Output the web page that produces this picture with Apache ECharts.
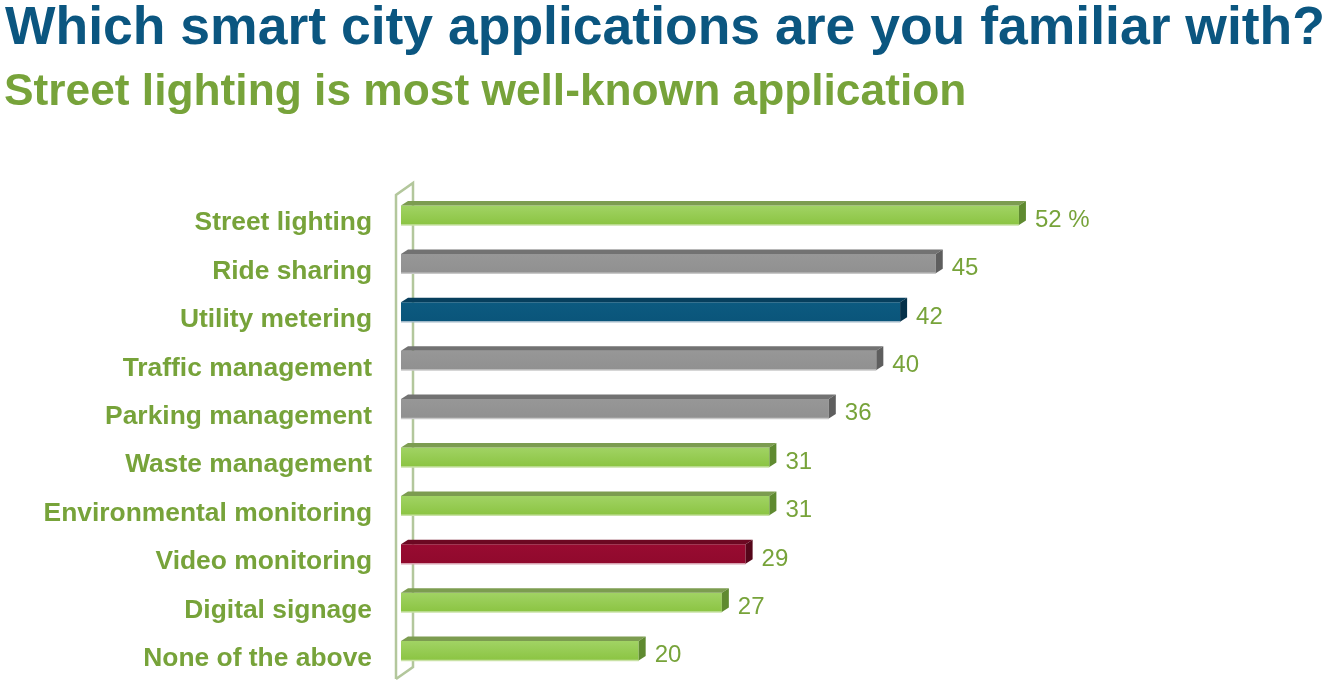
<!DOCTYPE html>
<html>
<head>
<meta charset="utf-8">
<script src="https://cdn.jsdelivr.net/npm/echarts@6/dist/echarts.min.js"></script>
<style>
html,body{margin:0;padding:0;background:#fff;}
#chart{width:1330px;height:694px;}
</style>
</head>
<body>
<div id="chart"></div>
<script>
// ---- data ----
const titleText = 'Which smart city applications are you familiar with?';
const subtitleText = 'Street lighting is most well-known application';
const categories = ['Street lighting','Ride sharing','Utility metering','Traffic management','Parking management','Waste management','Environmental monitoring','Video monitoring','Digital signage','None of the above'];
const values = [52,45,42,40,36,31,31,29,27,20];
const valueSuffix = ['%','','','','','','','','',''];
const tones = ['green','gray','blue','gray','gray','green','green','red','green','green'];

// ---- styles ----
const palette = {
  green: {front:[['#a1d364',0],['#8bc442',1]], top:'#7c9c50', side:'#5f8a30', edge:'#c9e2a6'},
  gray:  {front:[['#979797',0],['#909090',1]], top:'#727272', side:'#5e5e5e', edge:'#c8c8c8'},
  blue:  {front:[['#0c5a80',0],['#0a557a',1]], top:'#073f5d', side:'#053149', edge:'#9fb8c8'},
  red:   {front:[['#980b31',0],['#90092d',1]], top:'#6c0822', side:'#55061a', edge:'#d7a0ae'}
};
const textGreen = '#77a33a';
const titleBlue = '#0b5680';
const FONT = '"Liberation Sans", Arial, sans-serif';

const chart = echarts.init(document.getElementById('chart'));
const DX = 7, DY = 4.5;

function renderBar(params, api){
  const v = api.value(0);
  const cat = api.value(1);
  const p0 = api.coord([0, cat]);
  const p1 = api.coord([v, cat]);
  const h = api.size([0, 1])[1] * 0.4;
  const x0 = p0[0], x1 = p1[0], yc = p0[1];
  const yt = yc - h/2, yb = yc + h/2;
  const pal = palette[tones[params.dataIndex]];
  const suf = valueSuffix[params.dataIndex];
  return {
    type: 'group',
    children: [
      {type:'rect', shape:{x:x0, y:yt, width:x1-x0, height:h},
       style:{fill:{type:'linear',x:0,y:0,x2:0,y2:1,colorStops:pal.front.map(s=>({color:s[0],offset:s[1]}))}}},
      {type:'line', shape:{x1:x0, y1:yb, x2:x1, y2:yb}, style:{stroke:pal.edge, lineWidth:1.5}},
      {type:'polygon', shape:{points:[[x0,yt],[x0+DX,yt-DY],[x1+DX,yt-DY],[x1,yt]]}, style:{fill:pal.top}},
      {type:'polygon', shape:{points:[[x1,yt],[x1+DX,yt-DY],[x1+DX,yb-DY],[x1,yb]]}, style:{fill:pal.side}},
      {type:'text', style:{text: v + (suf ? ' ' + suf : ''), x: x1 + DX + 9, y: yc + 5,
        verticalAlign:'middle', align:'left', fill:textGreen, font:'24px ' + FONT}},
      {type:'text', style:{text: categories[params.dataIndex], x: x0 - 29, y: yc + 8,
        verticalAlign:'middle', align:'right', fill:textGreen, font:'bold 26.4px ' + FONT}}
    ]
  };
}

function renderWall(params, api){
  const cs = params.coordSys;
  const xl = cs.x - 5, xr = cs.x + 12;
  const top = cs.y, bot = cs.y + cs.height;
  const st = {stroke:'#b3c79c', lineWidth:2.5, fill:null};
  return {
    type:'group',
    children:[
      {type:'polyline', shape:{points:[[xl,bot+4],[xl,top+4],[xr,top-8],[xr,bot-8],[xl,bot+4]]}, style:st}
    ]
  };
}

const option = {
  animation:false,
  backgroundColor:'#fff',
  title:[
    {text:titleText, left:5, top:2, padding:0,
     textStyle:{fontSize:53.5, fontWeight:'bold', color:titleBlue, fontFamily:FONT}},
    {text:subtitleText, left:4, top:71, padding:0,
     textStyle:{fontSize:44.3, fontWeight:'bold', color:textGreen, fontFamily:FONT}}
  ],
  grid:{left:401, right:216, top:191, bottom:19, containLabel:false},
  xAxis:{type:'value', min:0, max:60, show:false},
  yAxis:{type:'category', data:categories, inverse:true,
    axisLine:{show:false}, axisTick:{show:false}, splitLine:{show:false},
    axisLabel:{show:false}},
  series:[
    {type:'custom', renderItem:renderWall, data:[[0, categories[0]]], silent:true, z:1, encode:{x:0,y:1}},
    {type:'custom', renderItem:renderBar, data: values.map((v,i)=>[v, categories[i]]), encode:{x:0,y:1}, z:2}
  ]
};
chart.setOption(option);
</script>
</body>
</html>
